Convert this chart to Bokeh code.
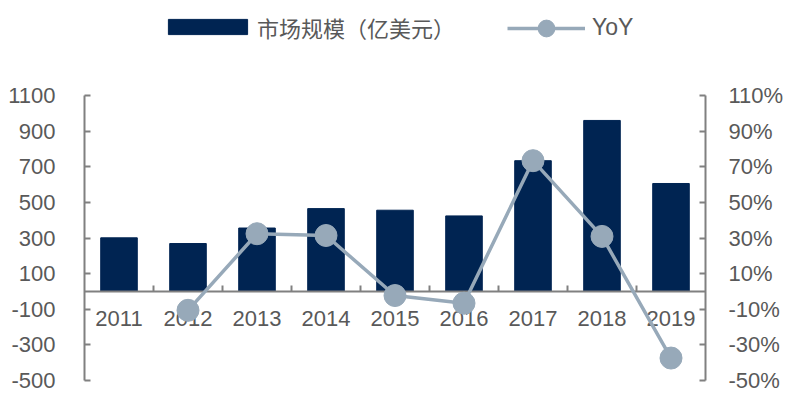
from bokeh.plotting import figure
from bokeh.layouts import column
from bokeh.models import (Range1d, LinearAxis, FixedTicker, CustomJSTickFormatter,
                          Legend, LegendItem)
from bokeh.embed import file_html
from bokeh.resources import INLINE

years = ["2011", "2012", "2013", "2014", "2015", "2016", "2017", "2018", "2019"]
market = [301, 269, 356, 465, 456, 424, 734, 960, 606]
yoy_years = ["2012", "2013", "2014", "2015", "2016", "2017", "2018", "2019"]
yoy = [-10.6, 32.4, 31.4, -2.3, -6.6, 73.4, 30.9, -37.4]
left_ticks = [-500, -300, -100, 100, 300, 500, 700, 900, 1100]
right_ticks = [-50, -30, -10, 10, 30, 50, 70, 90, 110]

BAR = "#002452"
LINE = "#97a9b9"
AXIS = "#808080"
TXT = "#595959"
FONT = "Liberation Sans"

xs = list(range(len(years)))
x_yoy = [years.index(y) for y in yoy_years]

p = figure(width=800, height=340, output_backend="svg", toolbar_location=None,
           x_range=Range1d(-0.5, len(years) - 0.5),
           y_range=Range1d(left_ticks[0], left_ticks[-1]),
           min_border_left=84, min_border_right=95, min_border_top=35,
           min_border_bottom=20, x_axis_location=None, y_axis_location=None)
p.extra_y_ranges = {"yoy": Range1d(right_ticks[0], right_ticks[-1])}
p.grid.visible = False
p.outline_line_color = None

bars = p.vbar(x=xs, top=market, bottom=0, width=0.53, color=BAR)
line = p.line(x_yoy, yoy, y_range_name="yoy", line_width=3.5, color=LINE, level="overlay")
dots = p.scatter(x_yoy, yoy, y_range_name="yoy", size=22, color=LINE, level="overlay")


def style(ax):
    ax.axis_line_color = AXIS
    ax.axis_line_width = 2
    ax.major_tick_line_color = AXIS
    ax.major_tick_line_width = 2
    ax.minor_tick_line_color = AXIS
    ax.minor_tick_line_width = 2
    ax.major_label_text_color = TXT
    ax.major_label_text_font = FONT
    ax.major_label_text_font_size = "22px"


yl = LinearAxis(ticker=FixedTicker(ticks=left_ticks, minor_ticks=[]),
                formatter=CustomJSTickFormatter(code="return tick.toFixed(0)"))
style(yl)
yl.major_tick_in = 6
yl.major_tick_out = 0
yl.major_label_standoff = 29
p.add_layout(yl, "left")

yr = LinearAxis(y_range_name="yoy", ticker=FixedTicker(ticks=right_ticks, minor_ticks=[]),
                formatter=CustomJSTickFormatter(code="return tick.toFixed(0) + '%'"))
style(yr)
yr.major_tick_in = 6
yr.major_tick_out = 0
yr.major_label_standoff = 23
p.add_layout(yr, "right")

xa = LinearAxis(ticker=FixedTicker(ticks=xs, minor_ticks=[i + 0.5 for i in xs[:-1]]),
                fixed_location=0,
                major_label_overrides={i: y for i, y in zip(xs, years)})
style(xa)
xa.major_tick_in = 0
xa.major_tick_out = 0
xa.minor_tick_in = 6
xa.minor_tick_out = 0
xa.major_label_standoff = 20
p.add_layout(xa, "below")

# legend strip above the chart (its own renderers are hidden; only the legend shows)
lg = figure(width=800, height=60, output_backend="svg", toolbar_location=None,
            x_range=Range1d(-0.5, len(years) - 0.5), y_range=Range1d(0, 1), min_border=0,
            x_axis_location=None, y_axis_location=None)
lg.grid.visible = False
lg.outline_line_color = None
lbars = lg.vbar(x=xs, top=market, width=0.53, color=BAR, visible=False)
lline = lg.line(x=x_yoy, y=yoy, line_width=3.5, color=LINE, visible=False)
ldots = lg.scatter(x=x_yoy, y=yoy, size=17, color=LINE, visible=False)

legA = Legend(items=[LegendItem(label="市场规模（亿美元）", renderers=[lbars])],
              location=(74, 17.5), glyph_width=99, glyph_height=19, label_standoff=0,
              label_height=18,
              label_text_font="Noto Sans CJK SC", label_text_font_size="22px",
              label_text_color=TXT, padding=0, margin=0, border_line_color=None,
              background_fill_alpha=0)
legB = Legend(items=[LegendItem(label="YoY", renderers=[lline, ldots])],
              location=(423, 11.5), glyph_width=78, glyph_height=42, label_standoff=7,
              label_text_font=FONT, label_text_font_size="23px",
              label_text_color=TXT, padding=0, margin=0, border_line_color=None,
              background_fill_alpha=0)
lg.add_layout(legA)
lg.add_layout(legB)

page = column(lg, p, spacing=0)
open("out.html", "w").write(file_html(page, INLINE))
